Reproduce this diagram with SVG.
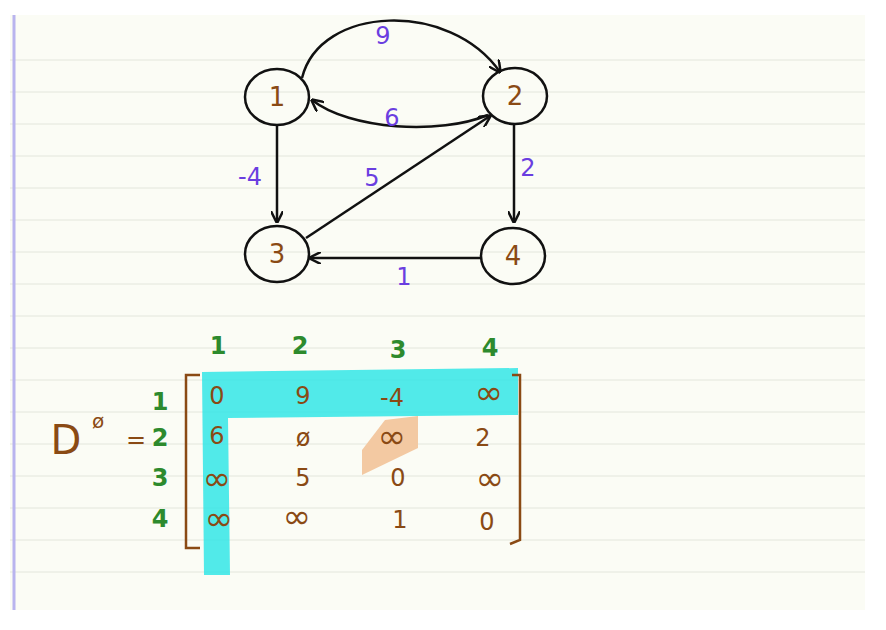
<svg xmlns="http://www.w3.org/2000/svg" width="886" height="630" viewBox="0 0 886 630">
<defs>
<style>
.rule{stroke:#e3e6dc;stroke-width:1}
.node{fill:none;stroke:#111;stroke-width:2.5}
.nl{font-family:"DejaVu Sans",sans-serif;font-size:26px;fill:#8a4a14;text-anchor:middle}
.el{font-family:"DejaVu Sans",sans-serif;font-size:24px;fill:#6a3ee0;text-anchor:middle}
.edge{fill:none;stroke:#111;stroke-width:2.5;marker-end:url(#ah)}
.m{font-family:"DejaVu Sans",sans-serif;font-size:24px;fill:#8a4a14;text-anchor:middle}
.inf{font-size:34px}
.h{font-family:"DejaVu Sans",sans-serif;font-size:24px;font-weight:bold;fill:#2d8a2d;text-anchor:middle}
</style>
<marker id="ah" viewBox="0 0 10 10" refX="9" refY="5" markerWidth="5" markerHeight="5" orient="auto"><path d="M0,0 L10,5 L0,10" fill="none" stroke="#111" stroke-width="2"/></marker>
</defs>
<rect width="886" height="630" fill="#fff"/>
<rect x="10" y="15" width="855" height="595" fill="#fbfcf5"/>
<g>
<line class="rule" x1="10" y1="60" x2="865" y2="60"/><line class="rule" x1="10" y1="92" x2="865" y2="92"/>
<line class="rule" x1="10" y1="124" x2="865" y2="124"/><line class="rule" x1="10" y1="156" x2="865" y2="156"/>
<line class="rule" x1="10" y1="188" x2="865" y2="188"/><line class="rule" x1="10" y1="220" x2="865" y2="220"/>
<line class="rule" x1="10" y1="252" x2="865" y2="252"/><line class="rule" x1="10" y1="284" x2="865" y2="284"/>
<line class="rule" x1="10" y1="316" x2="865" y2="316"/><line class="rule" x1="10" y1="348" x2="865" y2="348"/>
<line class="rule" x1="10" y1="380" x2="865" y2="380"/><line class="rule" x1="10" y1="412" x2="865" y2="412"/>
<line class="rule" x1="10" y1="444" x2="865" y2="444"/><line class="rule" x1="10" y1="476" x2="865" y2="476"/>
<line class="rule" x1="10" y1="508" x2="865" y2="508"/><line class="rule" x1="10" y1="540" x2="865" y2="540"/>
<line class="rule" x1="10" y1="572" x2="865" y2="572"/>
</g>
<line x1="14" y1="15" x2="14" y2="610" stroke="#b9b4ee" stroke-width="3"/>
<g id="connectors">
<path class="edge" d="M302,78 C320,5 450,0 500,72"/>
<path class="edge" d="M488,115 C440,135 350,130 312,100"/>
<path class="edge" d="M277,126 L277,222"/>
<path class="edge" d="M306,238 L490,116"/>
<path class="edge" d="M514,124 L514,222"/>
<path class="edge" d="M481,258 L310,258"/>
</g>
<g id="edge-labels">
<text class="el" x="383" y="44">9</text>
<text class="el" x="392" y="126">6</text>
<text class="el" x="250" y="185">-4</text>
<text class="el" x="372" y="186">5</text>
<text class="el" x="528" y="176">2</text>
<text class="el" x="404" y="285">1</text>
</g>
<g id="n1"><ellipse class="node" cx="277" cy="97" rx="32" ry="28"/><text class="nl" x="277" y="106">1</text></g>
<g id="n2"><ellipse class="node" cx="515" cy="96" rx="32" ry="28"/><text class="nl" x="515" y="105">2</text></g>
<g id="n3"><ellipse class="node" cx="277" cy="254" rx="32" ry="28"/><text class="nl" x="277" y="263">3</text></g>
<g id="n4"><ellipse class="node" cx="513" cy="256" rx="32" ry="28"/><text class="nl" x="513" y="265">4</text></g>
<g id="matrix">
<path d="M202,372 L518,368 L518,415 L228,418 L230,575 L204,575 Z" fill="#33e6e6" opacity="0.85"/>
<path d="M362,450 L385,420 L418,416 L418,448 L362,475 Z" fill="#f3c9a2"/>
<path d="M200,375 L186,375 L186,548 L200,548" fill="none" stroke="#8a4a14" stroke-width="2.5"/>
<path d="M512,375 L520,375 L520,540 L510,544" fill="none" stroke="#8a4a14" stroke-width="2.5"/>
<text class="h" x="218" y="354">1</text><text class="h" x="300" y="354">2</text><text class="h" x="398" y="358">3</text><text class="h" x="490" y="356">4</text>
<text class="h" x="160" y="410">1</text><text class="h" x="160" y="446">2</text><text class="h" x="160" y="486">3</text><text class="h" x="160" y="527">4</text>
<text class="m" x="66" y="454" style="font-size:40px">D</text><text class="m" x="98" y="428" style="font-size:20px">ø</text>
<text class="m" x="136" y="448">=</text>
<text class="m" x="217" y="404">0</text><text class="m" x="303" y="404">9</text><text class="m" x="392" y="406">-4</text><text class="m inf" x="489" y="404">∞</text>
<text class="m" x="217" y="444">6</text><text class="m" x="303" y="446">ø</text><text class="m inf" x="392" y="448">∞</text><text class="m" x="483" y="446">2</text>
<text class="m inf" x="217" y="490">∞</text><text class="m" x="303" y="486">5</text><text class="m" x="398" y="486">0</text><text class="m inf" x="490" y="490">∞</text>
<text class="m inf" x="219" y="530">∞</text><text class="m inf" x="297" y="528">∞</text><text class="m" x="400" y="528">1</text><text class="m" x="487" y="530">0</text>
</g>
</svg>
